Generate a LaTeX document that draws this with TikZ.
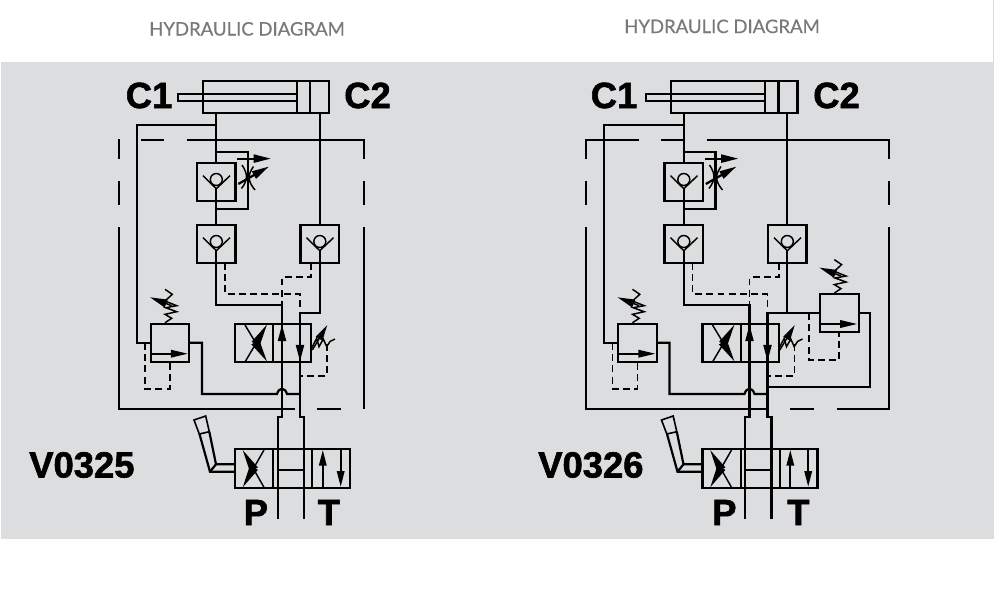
\documentclass[tikz,border=0pt]{standalone}
\usepackage{fontspec}
\setmainfont{Liberation Sans}
\newfontfamily\heavyfont[FakeBold=1.6]{Liberation Sans Bold}
\newfontfamily\titlefont[FakeBold=0.35]{Lato}
\usetikzlibrary{arrows.meta}
\definecolor{panel}{HTML}{DCDDDF}
\definecolor{titlegray}{HTML}{77797B}
\tikzset{
  pipe/.style={line width=1.65pt,black,line join=miter},
  thin pipe/.style={line width=1.1pt,black},
  pilot/.style={line width=1.4pt,black,dash pattern=on 5.2pt off 3.2pt},
  frameline/.style={line width=1.65pt,black},
  bigtext/.style={font=\heavyfont\fontsize{27.3}{28}\selectfont,anchor=base west,inner sep=0pt,black},
  titletext/.style={font=\titlefont\fontsize{13.9}{16}\selectfont,anchor=base west,inner sep=0pt,text=titlegray},
}
% check valve: left, top of the box
\newcommand{\chkvalve}[2]{%
  \begin{scope}[shift={(#1,#2)}]
    \draw[pipe] (0,0) rectangle (38.5,38.3);
    \draw[thin pipe] (6,13) -- (19.3,26) -- (33,13);
    \draw[thin pipe] (19.3,16.8) circle[radius=4.5pt];
    \draw[pipe] (19.3,25.6) -- (19.3,38.3);
  \end{scope}}
% relief valve: left, top of the box
\newcommand{\reliefvalve}[2]{%
  \begin{scope}[shift={(#1,#2)}]
    \draw[pipe] (0,0) rectangle (38.6,38.3);
    \draw[pipe,-{Triangle[length=13pt,width=5.5pt]}] (0,30) -- (37.5,30);
    \draw[thin pipe] (14.3,-34.4) -- (21.6,-29.4) -- (14.3,-22.7) -- (26,-18) -- (15,-16) -- (26,-12) -- (14.3,-9.4) -- (21,-5.4) -- (14.3,-1);
    \draw[thin pipe,-{Triangle[length=13pt,width=6pt]}] (21,-18) -- (-0.7,-26.4);
  \end{scope}}
% everything the two circuits have in common, in the coordinates of the left one
\newcommand{\circuit}{%
  \chkvalve{197}{162.7}
  \chkvalve{197}{224.7}
  \chkvalve{300.5}{224.7}
  \draw[pipe] (216.3,113) -- (216.3,162.7);
  \draw[pipe] (216.3,201) -- (216.3,224.7);
  \draw[pipe] (216.3,124.7) -- (136.7,124.7) -- (136.7,342.7) -- (150.7,342.7);
  \draw[pipe] (319.8,113) -- (319.8,224.7);
  % by-pass with throttle
  \draw[pipe] (215,151.7) -- (248,151.7) -- (248,209) -- (216.3,209);
  \draw[pipe,-{Triangle[length=13pt,width=6pt]}] (237,158.6) -- (271,158.6);
  \draw[pipe,-{Triangle[length=13pt,width=6pt]}] (238.3,184) -- (269,166.5);
  \draw[thin pipe] (242,165) .. controls (248,174) and (248,180) .. (241.5,188.5);
  \draw[thin pipe] (253.5,166.5) .. controls (247.5,175) and (247.5,181) .. (255,190);
  % work lines
  \draw[pipe] (216.3,263) -- (216.3,305) -- (282,305) -- (282,417.3) -- (277.7,417.3) -- (277.7,519.3);
  \draw[pipe] (319.8,263) -- (319.8,312.7) -- (300,312.7) -- (300,417.3) -- (304,417.3) -- (304,519.3);
  % pilots
  \draw[pilot] (311.3,263) -- (311.3,277.3) -- (282,277.3) -- (282,305);
  \draw[pilot] (225,263) -- (225,294) -- (300,294) -- (300,309);
  % relief valve
  \reliefvalve{150.7}{323.7}
  \draw[pipe] (189.3,342.7) -- (202,342.7) -- (202,394) -- (277,394) .. controls (279,387) and (285,387) .. (287,394) -- (300,394);
  \draw[pilot] (145,343) -- (145,388.7) -- (170,388.7) -- (170,362);
  % pilot-operated valve
  \draw[pipe] (235,323.7) rectangle (311.3,362);
  \draw[pipe] (273.3,323.7) -- (273.3,362);
  \draw[thin pipe,-{Triangle[length=17pt,width=6.5pt]}] (245,362) -- (267,324.5);
  \draw[thin pipe,-{Triangle[length=17pt,width=6.5pt]}] (245,325) -- (267,361.5);
  \draw[pipe,-{Triangle[length=12.5pt,width=6pt]}] (282,362) -- (282,324.5);
  \draw[pipe,-{Triangle[length=12.5pt,width=6pt]}] (300,323.7) -- (300,361.5);
  \draw[thin pipe] (311.7,348) -- (316.7,338.3) -- (319,346.7) -- (323.3,339) -- (326.7,346.7) -- (330,341.5) -- (335,339);
  \draw[thin pipe,-{Triangle[length=12pt,width=5.5pt]}] (312.3,350) -- (327.3,325);
  \draw[pilot] (327,344) -- (327,376) -- (300,376);
  % directional valve
  \draw[pipe] (235,449) rectangle (350,487.7);
  \draw[pipe] (273.3,449) -- (273.3,487.7);
  \draw[pipe] (312.3,449) -- (312.3,487.7);
  \draw[pipe] (277.7,470) -- (304,470);
  \draw[thin pipe,-{Triangle[length=17pt,width=6.5pt]}] (264,487.3) -- (242.7,450);
  \draw[thin pipe,-{Triangle[length=17pt,width=6.5pt]}] (264,450) -- (242.7,487.3);
  \draw[pipe,-{Triangle[length=12pt,width=5.5pt]}] (322.8,487.7) -- (322.8,449.7);
  \draw[pipe,-{Triangle[length=12pt,width=5.5pt]}] (340.7,449) -- (340.7,487);
  % lever
  \draw[pipe] (235,464.3) -- (216,464.3) -- (209.3,431.7);
  \draw[pipe] (235,471.7) -- (210,471.7) -- (199.5,434);
  \draw[pipe] (210,471.7) -- (216,464.3);
  \draw[thin pipe,line width=1.2pt] (194,420) -- (205.7,416) -- (209.3,431.7) -- (199.3,434) -- cycle;
}
% cylinder, coordinates of the left one
\newcommand{\cylinder}{%
  \draw[pipe] (202.7,81) rectangle (329,113);
  \draw[pipe] (296.7,81) -- (296.7,113);
  \draw[pipe] (310,81) -- (310,113);
  \draw[pipe] (296.7,94) -- (177.7,94) -- (177.7,101) -- (296.7,101);
}
\begin{document}
\begin{tikzpicture}[x=0.75pt,y=-0.75pt]
\useasboundingbox (0,0) rectangle (1004,612);
\fill[white] (0,0) rectangle (1004,612);
\fill[panel] (1,62) rectangle (993.7,539);
\fill[panel] (992.7,0) rectangle (993.7,62);
% titles
\node[titletext] (titleL) at (149,35.5) {HYDRAULIC DIAGRAM};
\node[titletext] (titleR) at (624,33) {HYDRAULIC DIAGRAM};
% left diagram
\cylinder
\circuit
\draw[frameline] (141,140) -- (164,140);
\draw[frameline] (187.3,140) -- (364,140) -- (364,159.3);
\draw[frameline] (364,181) -- (364,205);
\draw[frameline] (364,227.3) -- (364,409);
\draw[frameline] (118.7,139) -- (118.7,159.3);
\draw[frameline] (118.7,181) -- (118.7,205);
\draw[frameline] (118.7,227.3) -- (118.7,409) -- (295,409);
\draw[frameline] (317.3,409) -- (340.7,409);
\node[bigtext] (c1L) at (125.5,108) {C1};
\node[bigtext] (c2L) at (344,108) {C2};
\node[bigtext] (pL) at (243.5,525) {P};
\node[bigtext] (tL) at (317.5,525) {T};
\node[bigtext] (nameL) at (29,477.5) {V0325};
% right diagram
\begin{scope}[shift={(468.5,0)}]
  \cylinder
\end{scope}
\begin{scope}[shift={(467.5,0)}]
  \circuit
\end{scope}
\reliefvalve{820}{294}
\draw[pipe] (787.3,312.7) -- (820,312.7);
\draw[pipe] (859,312.7) -- (870,312.7) -- (870,386.7) -- (767.5,386.7);
\draw[pilot] (809,313) -- (809,360) -- (839.3,360) -- (839.3,332.3);
\draw[frameline] (586,159.3) -- (586,140) -- (639.3,140);
\draw[frameline] (661,140) -- (683.3,140);
\draw[frameline] (706.7,140) -- (889,140) -- (889,159.3);
\draw[frameline] (889,181) -- (889,205);
\draw[frameline] (889,227.3) -- (889,409) -- (836.7,409);
\draw[frameline] (814,409) -- (790,409);
\draw[frameline] (586,181) -- (586,205);
\draw[frameline] (586,227.3) -- (586,409) -- (767.7,409);
\node[bigtext] (c1R) at (590.5,108) {C1};
\node[bigtext] (c2R) at (813,108) {C2};
\node[bigtext] (pR) at (712,525) {P};
\node[bigtext] (tR) at (787,525) {T};
\node[bigtext] (nameR) at (538,477.5) {V0326};
\end{tikzpicture}
\end{document}
